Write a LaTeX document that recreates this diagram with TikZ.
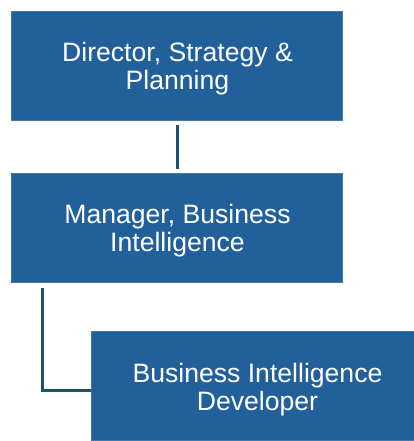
\documentclass[tikz,border=0pt]{standalone}
\usepackage{fontspec}
\setmainfont{Liberation Sans}
\definecolor{boxblue}{HTML}{22609C}
\definecolor{linkteal}{HTML}{1A5472}
\newcommand{\toprule}{\rule{0pt}{12.8pt}}
\tikzset{
  rolebox/.style={draw=boxblue!85!white, line width=0.5pt, fill=boxblue, text=white,
    align=center, inner sep=0pt, minimum width=165.5pt, minimum height=54.5pt,
    font=\fontsize{13.3}{14}\selectfont},
  link/.style={draw=linkteal, line width=1.5pt}
}
\begin{document}
\begin{tikzpicture}[x=0.5pt,y=-0.5pt]

    \useasboundingbox (0,0) rectangle (414,441);

    % Director (top box)
    \node[rolebox] (dir) at (177.5,65.5) {\toprule Director, Strategy \&\\Planning};

    % Manager
    \node[rolebox] (mgr) at (177.5,227.5) {\toprule Manager, Business\\Intelligence};

    % Developer (reports to manager, runs off the right edge)
    \node[rolebox] (dev) at (257.5,386) {\toprule Business Intelligence\\Developer};

    % links
    \draw[link, shorten <=2pt, shorten >=2pt] (dir.south) -- (mgr.north);
    \coordinate (tap) at ([xshift=15.75pt]mgr.south west);
    \draw[link, shorten <=2.5pt] (tap) |- ([yshift=-2pt]dev.west);

  \end{tikzpicture}
\end{document}
